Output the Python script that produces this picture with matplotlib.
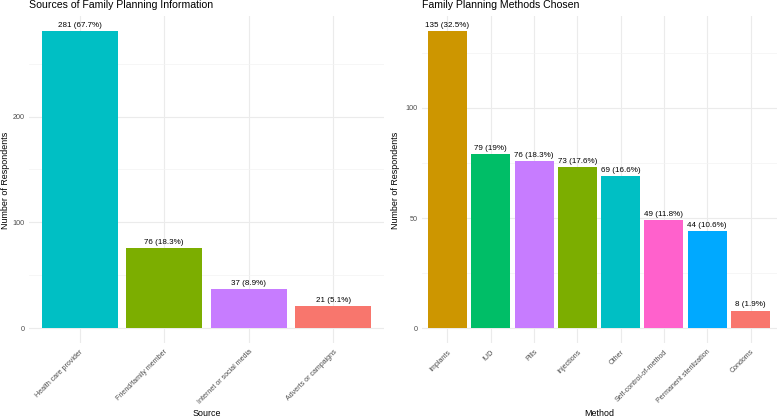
import matplotlib
matplotlib.use("Agg")
import matplotlib.pyplot as plt
from matplotlib.ticker import MultipleLocator

plt.rcParams['font.family'] = ['Liberation Sans', 'DejaVu Sans']

src_cats = ["Health care provider", "Friend/family member", "Internet or social media", "Adverts or campaigns"]
src_vals = [281, 76, 37, 21]
src_pcts = ["67.7", "18.3", "8.9", "5.1"]
src_colors = ["#00BFC4", "#7CAE00", "#C77CFF", "#F8766D"]

met_cats = ["Implants", "IUD", "Pills", "Injections", "Other", "Self-control-of-method",
            "Permanent sterilization", "Condoms"]
met_vals = [135, 79, 76, 73, 69, 49, 44, 8]
met_pcts = ["32.5", "19", "18.3", "17.6", "16.6", "11.8", "10.6", "1.9"]
met_colors = ["#CD9600", "#00BE67", "#C77CFF", "#7CAE00", "#00BFC4", "#FF61CC", "#00A9FF", "#F8766D"]

W, H = 780, 418
fig = plt.figure(figsize=(7.8, 4.18), dpi=100)
ax1 = fig.add_axes([29/W, 75/H, 355/W, 327/H])
ax2 = fig.add_axes([421.5/W, 75/H, 355/W, 327/H])


def draw(ax, cats, vals, pcts, colors, title, xlabel, major, minor, ylab_x):
    x = list(range(1, len(cats) + 1))
    ax.bar(x, vals, width=0.9, color=colors, zorder=2)
    for xi, v, p in zip(x, vals, pcts):
        ax.text(xi, v + max(vals) * 0.007, f"{v} ({p}%)", ha="center", va="bottom",
                fontsize=5.8, color="black", zorder=3)
    m = max(vals)
    ax.set_xlim(0.4, len(cats) + 0.6)
    ax.set_ylim(-0.05 * m, 1.05 * m)
    ax.set_xticks(x)
    ax.set_xticklabels(cats, rotation=45, ha="right", rotation_mode="anchor",
                       fontsize=5.1, color="#4D4D4D")
    ax.yaxis.set_major_locator(MultipleLocator(major))
    ax.yaxis.set_minor_locator(MultipleLocator(minor))
    ax.tick_params(axis="y", labelsize=5.2, labelcolor="#4D4D4D", length=0, which="both", pad=3)
    ax.tick_params(axis="x", length=0, pad=4)
    ax.grid(True, which="major", color="#EBEBEB", linewidth=0.8, zorder=0)
    ax.grid(True, which="minor", axis="y", color="#F3F3F3", linewidth=0.5, zorder=0)
    for s in ax.spines.values():
        s.set_visible(False)
    ax.text(0, 1 + (17 - 6.5) / 327, title, transform=ax.transAxes, ha="left", va="center",
            fontsize=7.6, color="black")
    ax.set_xlabel(xlabel, fontsize=6.4, color="black")
    ax.xaxis.set_label_coords(0.5, -(413 - 343) / 327, transform=ax.transAxes)
    ax.xaxis.label.set_va("center")
    ax.set_ylabel("Number of Respondents", fontsize=6.4, color="black")
    ax.yaxis.set_label_coords(ylab_x, 0.5 + (343 - 180 - 163.5) / 327, transform=ax.transAxes)
    ax.yaxis.label.set_va("center")
    ax.set_axisbelow(True)


draw(ax1, src_cats, src_vals, src_pcts, src_colors,
     "Sources of Family Planning Information", "Source", 100, 50, -(29 - 5) / 355)
draw(ax2, met_cats, met_vals, met_pcts, met_colors,
     "Family Planning Methods Chosen", "Method", 50, 25, -(421.5 - 395) / 355)

fig.savefig("out.png", dpi=100)
